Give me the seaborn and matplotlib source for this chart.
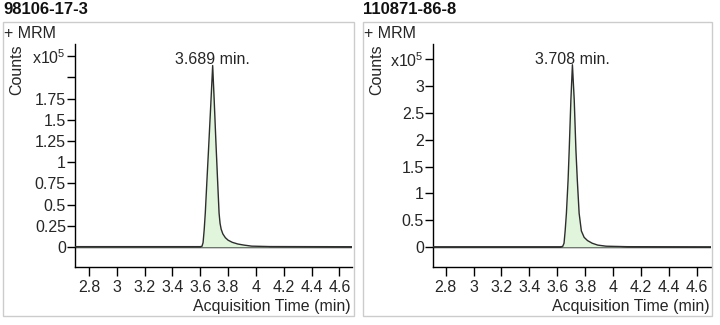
import matplotlib
matplotlib.use("Agg")
import matplotlib.pyplot as plt
import matplotlib.transforms as mtransforms
from matplotlib.patches import Rectangle
import seaborn as sns
import pandas as pd

# Compound identifiers (panel titles)
compounds = ["98106-17-3", "110871-86-8"]
retention_times = [3.689, 3.708]

# MRM chromatogram traces, counts in units of 1e5
left_time = [2.70, 3.60, 3.612, 3.620, 3.628, 3.636, 3.648, 3.659, 3.677, 3.689,
             3.700, 3.712, 3.724, 3.735, 3.742, 3.750, 3.762, 3.780, 3.800, 3.830,
             3.870, 3.915, 3.970, 4.10, 4.69]
left_counts = [0.004, 0.004, 0.008, 0.05, 0.20, 0.40, 0.79, 1.14, 1.73, 2.14,
               1.73, 1.25, 0.80, 0.40, 0.28, 0.21, 0.155, 0.11, 0.08, 0.055,
               0.035, 0.022, 0.01, 0.005, 0.003]

right_time = [2.71, 3.62, 3.638, 3.648, 3.656, 3.665, 3.677, 3.685, 3.697, 3.708,
              3.721, 3.733, 3.743, 3.756, 3.772, 3.792, 3.816, 3.850, 3.890, 3.950,
              4.10, 4.70]
right_counts = [0.004, 0.004, 0.01, 0.07, 0.30, 0.63, 1.25, 1.81, 2.74, 3.40,
                2.74, 1.81, 1.25, 0.63, 0.30, 0.18, 0.12, 0.07, 0.035, 0.015,
                0.006, 0.003]

x_ticks = [2.8, 3.0, 3.2, 3.4, 3.6, 3.8, 4.0, 4.2, 4.4, 4.6]
x_tick_labels = ["2.8", "3", "3.2", "3.4", "3.6", "3.8", "4", "4.2", "4.4", "4.6"]

left_yticks = [0, 0.25, 0.5, 0.75, 1.0, 1.25, 1.5, 1.75, 2.0, 2.25]
left_ylabels = ["0", "0.25", "0.5", "0.75", "1", "1.25", "1.5", "1.75", "", r"x10$^5$"]
right_yticks = [0, 0.5, 1.0, 1.5, 2.0, 2.5, 3.0, 3.5]
right_ylabels = ["0", "0.5", "1", "1.5", "2", "2.5", "3", r"x10$^5$"]

sns.set_style("white")
plt.rcParams["font.family"] = ["Liberation Sans", "DejaVu Sans"]
plt.rcParams["mathtext.fontset"] = "custom"
plt.rcParams["mathtext.rm"] = "Liberation Sans"
plt.rcParams["mathtext.default"] = "regular"

W, H = 720, 325
fig = plt.figure(figsize=(W / 100, H / 100), dpi=100)
fig.patch.set_facecolor("white")

FS = 11.5
FILL = "#e0f5dc"
LINE = "#2e2e2e"


def px_box(x0, y0, x1, y1):
    """Convert a pixel box (top-left origin) to figure fractions."""
    return [x0 / W, 1 - y1 / H, (x1 - x0) / W, (y1 - y0) / H]


panels = [
    dict(name=compounds[0], rt=retention_times[0], t=left_time, c=left_counts,
         yt=left_yticks, yl=left_ylabels, xlim=(2.70, 4.69), ylim=(-0.236, 2.394),
         frame=(3, 22, 354, 316), ax=(75, 44, 352, 267)),
    dict(name=compounds[1], rt=retention_times[1], t=right_time, c=right_counts,
         yt=right_yticks, yl=right_ylabels, xlim=(2.71, 4.70), ylim=(-0.373, 3.787),
         frame=(363, 22, 712, 316), ax=(433, 44, 711, 267)),
]

for p in panels:
    fx0, fy0, fx1, fy1 = p["frame"]
    # light grey panel border
    fig.patches.append(Rectangle((fx0 / W, 1 - fy1 / H), (fx1 - fx0) / W, (fy1 - fy0) / H,
                                 transform=fig.transFigure, fill=False,
                                 edgecolor="#cccccc", linewidth=1.0))
    fig.text(fx0 / W, 1 - 10 / H, p["name"], fontsize=12, fontweight="bold",
             ha="left", va="center", color="#111111")
    fig.text((fx0 + 1) / W, 1 - 34 / H, "+ MRM", fontsize=FS, ha="left", va="center")
    fig.text((fx0 + 14) / W, 1 - 70 / H, "Counts", fontsize=FS, rotation=90,
             ha="center", va="center")

    ax = fig.add_axes(px_box(*p["ax"]))
    ax.set_facecolor("white")
    df = pd.DataFrame({"time": p["t"], "counts": p["c"]})

    ax.axhline(0, color="black", linewidth=1.0, zorder=1)
    ax.fill_between(df["time"], df["counts"], 0, color=FILL, linewidth=0, zorder=2)
    sns.lineplot(data=df, x="time", y="counts", ax=ax, color=LINE, linewidth=1.0,
                 zorder=3, estimator=None, sort=False)

    ax.set_xlim(*p["xlim"])
    ax.set_ylim(*p["ylim"])
    ax.set_xticks(x_ticks)
    ax.set_xticklabels(x_tick_labels)
    ax.set_yticks(p["yt"])
    ax.set_yticklabels(p["yl"])
    ax.set_xlabel("")
    ax.set_ylabel("")
    ax.tick_params(axis="x", direction="out", length=6.5, width=1, pad=3,
                   labelsize=FS, color="black", bottom=True)
    ax.tick_params(axis="y", direction="out", length=6, width=1, pad=0.5,
                   labelsize=FS, color="black", left=True)
    for s in ("top", "right"):
        ax.spines[s].set_visible(False)
    for s in ("left", "bottom"):
        ax.spines[s].set_color("black")
        ax.spines[s].set_linewidth(1.0)

    trans = mtransforms.blended_transform_factory(ax.transData, ax.transAxes)
    ax.text(p["rt"], (267 - 59) / 223, f"{p['rt']:.3f} min.", transform=trans,
            ha="center", va="center", fontsize=FS)

    ax0, _, ax1, _ = p["ax"]
    fig.text((ax1 - 1) / W, 1 - 307 / H, "Acquisition Time (min)", fontsize=FS,
             ha="right", va="center")

fig.savefig("out.png", dpi=100, facecolor="white")
